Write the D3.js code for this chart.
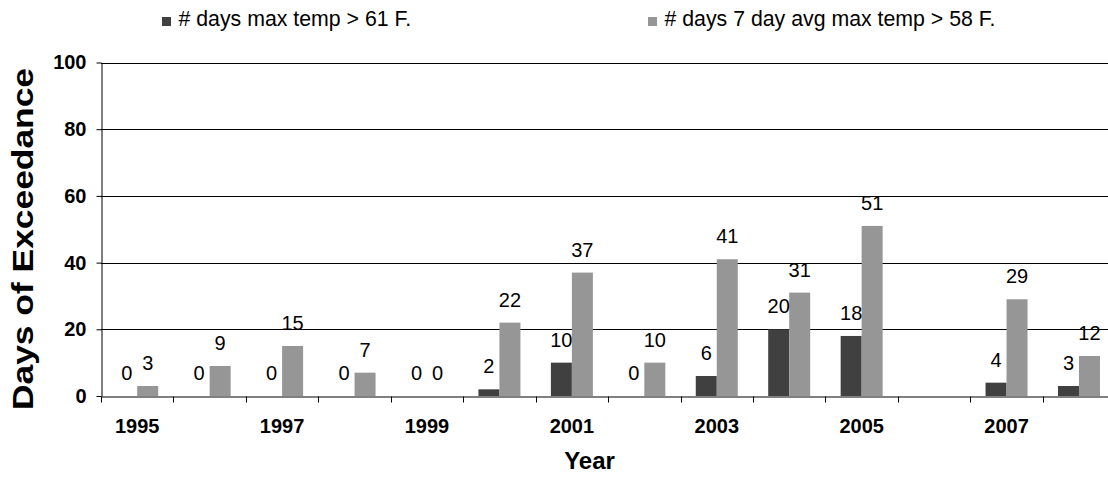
<!DOCTYPE html>
<html>
<head>
<meta charset="utf-8">
<script src="https://cdn.jsdelivr.net/npm/d3@7"></script>
<style>
  html, body { margin: 0; padding: 0; background: #fff; }
  svg { display: block; font-family: "Liberation Sans", Arial, sans-serif; }
</style>
</head>
<body>
<svg id="chart" width="1108" height="477"></svg>
<script>
const years = ["1995","1996","1997","1998","1999","2000","2001","2002","2003","2004","2005","2006","2007","2008"];
const daysMax61 = [0, 0, 0, 0, 0, 2, 10, 0, 6, 20, 18, null, 4, 3];
const days7Avg58 = [3, 9, 15, 7, 0, 22, 37, 10, 41, 31, 51, null, 29, 12];
const seriesNames = ["# days max temp > 61 F.", "# days 7 day avg max temp > 58 F."];
const seriesColors = ["#404040", "#969696"];
const yTicks = [0, 20, 40, 60, 80, 100];
const xTickLabels = ["1995","","1997","","1999","","2001","","2003","","2005","","2007",""];

const svg = d3.select("#chart");
const pLeft = 101, pRight = 1115.2, pTop = 62.5, pBottom = 396;

const x = d3.scaleBand().domain(years).range([pLeft, pRight]).paddingInner(0).paddingOuter(0);
const x1 = d3.scaleBand().domain([0, 1]).range([0, x.bandwidth()]).paddingInner(0).paddingOuter(0.725);
const y = d3.scaleLinear().domain([0, 100]).range([pBottom, pTop]);

// gridlines
svg.append("g").selectAll("line").data(yTicks.filter(d => d > 0)).join("line")
  .attr("x1", pLeft).attr("x2", pRight)
  .attr("y1", d => Math.round(y(d)) + 0.5).attr("y2", d => Math.round(y(d)) + 0.5)
  .attr("stroke", "#000").attr("stroke-width", 1);

// bars
const rows = years.map((yr, i) => ({ yr, vals: [daysMax61[i], days7Avg58[i]] }));
const groups = svg.append("g").selectAll("g").data(rows).join("g")
  .attr("transform", d => `translate(${x(d.yr)},0)`);
groups.selectAll("rect").data(d => d.vals.map((v, s) => ({ v, s })).filter(e => e.v !== null)).join("rect")
  .attr("x", e => x1(e.s)).attr("width", x1.bandwidth())
  .attr("y", e => y(e.v)).attr("height", e => y(0) - y(e.v))
  .attr("fill", e => seriesColors[e.s]);
groups.selectAll("text").data(d => d.vals.map((v, s) => ({ v, s })).filter(e => e.v !== null)).join("text")
  .attr("x", e => x1(e.s) + x1.bandwidth() / 2)
  .attr("y", e => y(e.v) - 16)
  .attr("text-anchor", "middle")
  .attr("font-size", 20)
  .attr("fill", "#000")
  .text(e => e.v);

// y axis
const yAxis = svg.append("g").attr("transform", `translate(${pLeft + 0.5},0)`)
  .call(d3.axisLeft(y).tickValues(yTicks).tickSize(5).tickPadding(10).tickSizeOuter(0));
yAxis.select(".domain").attr("stroke", "#000");
yAxis.selectAll(".tick line").attr("stroke", "#000");
yAxis.selectAll(".tick text").attr("font-size", 20).attr("font-weight", "bold")
  .attr("font-family", "Liberation Sans, Arial, sans-serif").attr("fill", "#000");

// x axis
const xAxis = svg.append("g").attr("transform", `translate(0,${Math.round(pBottom) + 0.5})`)
  .call(d3.axisBottom(x).tickSize(0).tickPadding(22).tickFormat((d, i) => xTickLabels[i]));
xAxis.select(".domain").attr("stroke", "#000");
xAxis.selectAll(".tick text").attr("font-size", 20).attr("font-weight", "bold")
  .attr("font-family", "Liberation Sans, Arial, sans-serif").attr("fill", "#000");
xAxis.append("g").selectAll("line").data(years.concat(["end"])).join("line")
  .attr("x1", d => Math.round(d === "end" ? pRight : x(d)) + 0.5)
  .attr("x2", d => Math.round(d === "end" ? pRight : x(d)) + 0.5)
  .attr("y1", 0).attr("y2", 6).attr("stroke", "#000");

// axis titles
svg.append("text")
  .attr("transform", `translate(33,239) rotate(-90)`)
  .attr("text-anchor", "middle")
  .attr("font-size", 30).attr("font-weight", "bold")
  .attr("textLength", 342).attr("lengthAdjust", "spacingAndGlyphs")
  .text("Days of Exceedance");
svg.append("text")
  .attr("x", 589.5).attr("y", 469)
  .attr("text-anchor", "middle")
  .attr("font-size", 24).attr("font-weight", "bold")
  .text("Year");

// legend
const legendX = [162, 648];
const legend = svg.append("g").selectAll("g").data(seriesNames).join("g")
  .attr("transform", (d, i) => `translate(${legendX[i]},0)`);
legend.append("rect").attr("x", 0).attr("y", 17).attr("width", 9).attr("height", 9)
  .attr("fill", (d, i) => seriesColors[i]);
legend.append("text").attr("x", 16.5).attr("y", 26)
  .attr("font-size", 21.3).attr("fill", "#000")
  .text(d => d);
</script>
</body>
</html>
